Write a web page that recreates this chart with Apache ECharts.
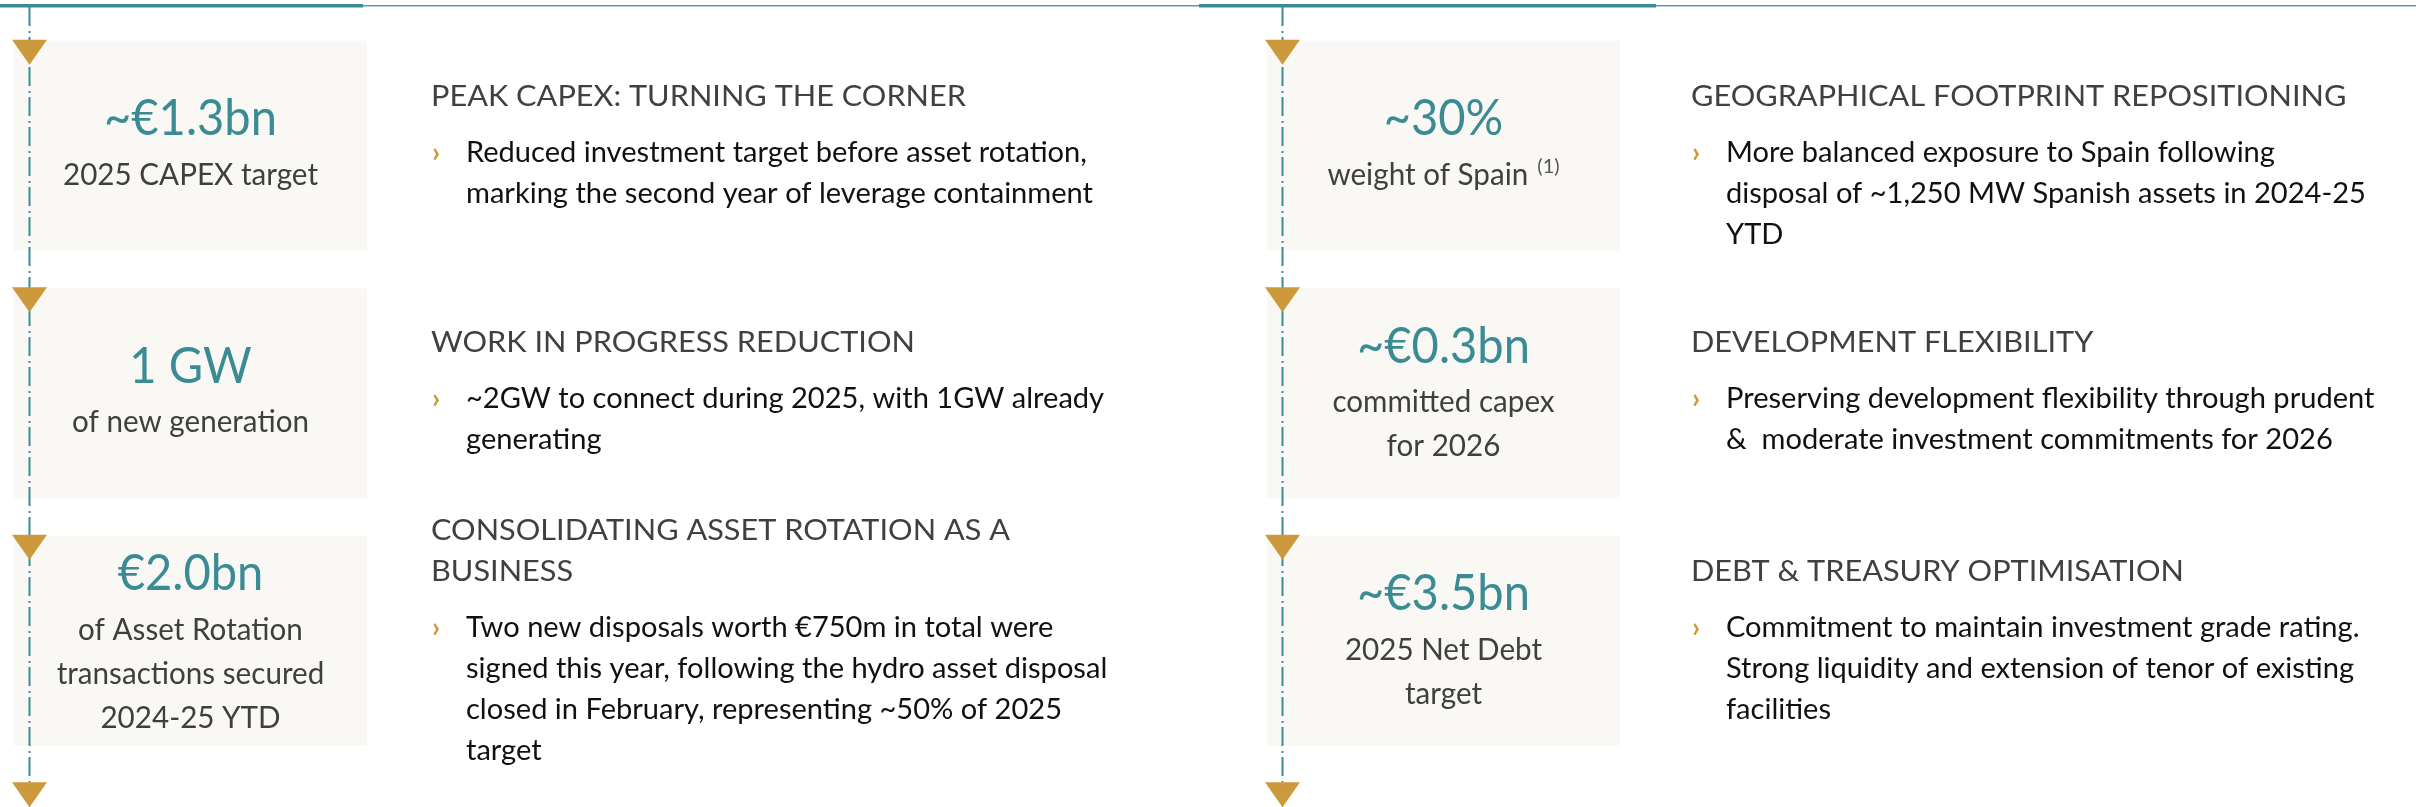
<!DOCTYPE html>
<html>
<head>
<meta charset="utf-8">
<title>Key highlights</title>
<script src="https://cdn.jsdelivr.net/npm/echarts@6/dist/echarts.min.js"></script>
<style>
  html, body { margin: 0; padding: 0; background: #fff; }
  #main { width: 2416px; height: 807px; }
</style>
</head>
<body>
<div id="main"></div>
<script>
const rowKeys = ['row1', 'row2', 'row3'];

// left column
const leftFigures = ['~€1.3bn', '1 GW', '€2.0bn'];
const leftCaptions = [
  ['2025 CAPEX target'],
  ['of new generation'],
  ['of Asset Rotation', 'transactions secured', '2024-25 YTD']
];
const leftNotes = ['', '', ''];
const leftHeadings = [
  ['PEAK CAPEX: TURNING THE CORNER'],
  ['WORK IN PROGRESS REDUCTION'],
  ['CONSOLIDATING ASSET ROTATION AS A', 'BUSINESS']
];
const leftBullets = [
  ['Reduced investment target before asset rotation,', 'marking the second year of leverage containment'],
  ['~2GW to connect during 2025, with 1GW already', 'generating'],
  ['Two new disposals worth €750m in total were', 'signed this year, following the hydro asset disposal',
   'closed in February, representing ~50% of 2025', 'target']
];

// right column
const rightFigures = ['~30%', '~€0.3bn', '~€3.5bn'];
const rightCaptions = [
  ['weight of Spain'],
  ['committed capex', 'for 2026'],
  ['2025 Net Debt', 'target']
];
const rightNotes = ['(1)', '', ''];
const rightHeadings = [
  ['GEOGRAPHICAL FOOTPRINT REPOSITIONING'],
  ['DEVELOPMENT FLEXIBILITY'],
  ['DEBT & TREASURY OPTIMISATION']
];
const rightBullets = [
  ['More balanced exposure to Spain following', 'disposal of ~1,250 MW Spanish assets in 2024-25', 'YTD'],
  ['Preserving development flexibility through prudent', '&  moderate investment commitments for 2026'],
  ['Commitment to maintain investment grade rating.', 'Strong liquidity and extension of tenor of existing', 'facilities']
];

const FONT = 'Lato, "Noto Sans", sans-serif';
const TEAL = '#3b8b95';
const GOLD = '#cc9a3c';

const ctx = document.createElement('canvas').getContext('2d');
function textWidth(str, size, weight) {
  ctx.font = (weight || 'normal') + ' ' + size + 'px ' + FONT;
  return ctx.measureText(str).width;
}

const sizes = { figure: 50, caption: 30, note: 20, heading: 28, body: 28 };
// stretch each text style so a sample line gets the width it has on the slide
const squeeze = {
  figure: 173 / textWidth('~€1.3bn', sizes.figure),
  caption: 255 / textWidth('2025 CAPEX target', sizes.caption),
  heading: 535 / textWidth('PEAK CAPEX: TURNING THE CORNER', sizes.heading),
  body: 451 / textWidth('Two new disposals worth €750m in', sizes.body)
};
const MID = 0.35; // baseline -> middle of caps

// last heading line, relative to row centre
const headShift = [-39, -40, -59];

function label(x, y, text, size, color, sx, align, weight) {
  return {
    type: 'text', x: x, y: y - MID * size, scaleX: sx, z2: 12,
    style: {
      text: text, fontSize: size, fontFamily: FONT, fontWeight: weight || 'normal',
      fill: color, align: align || 'left', verticalAlign: 'middle'
    }
  };
}

function makeRender(figures, captions, notes, headings, bullets, textGap) {
  return function (params, api) {
    const row = api.value(1);
    const c = api.coord([0.5, row]);
    const band = api.size([1, 1]);
    const cs = params.coordSys;
    const boxH = 210;
    const top = c[1] - boxH / 2;
    const lineX = cs.x + 15.5;
    const kids = [];

    kids.push({ type: 'rect', z2: 0, shape: { x: cs.x, y: top, width: cs.width, height: boxH }, style: { fill: '#f9f8f5' } });
    if (row === 0) {
      kids.push({
        type: 'line', z2: 5,
        shape: { x1: lineX, y1: cs.y - 15, x2: lineX, y2: cs.y + cs.height + 18 },
        style: { stroke: TEAL, lineWidth: 2, lineDash: [19, 5, 2, 4] }
      });
    }
    const tri = function (t) {
      return { type: 'polygon', z2: 10, shape: { points: [[lineX - 17.5, t], [lineX + 17.5, t], [lineX, t + 25]] }, style: { fill: GOLD } };
    };
    kids.push(tri(top - 1));
    if (row === rowKeys.length - 1) kids.push(tri(top - 1 + band[1]));

    // figure + caption inside the box
    const caps = captions[row];
    const numBase = c[1] - 9 - (caps.length - 1) * 20;
    kids.push(label(c[0], numBase, figures[row], sizes.figure, TEAL, squeeze.figure, 'center'));
    caps.forEach(function (line, i) {
      const base = numBase + 49 + i * 44;
      const note = i === caps.length - 1 ? notes[row] : '';
      if (note) {
        const w = textWidth(line, sizes.caption) * squeeze.caption;
        const nw = textWidth(note, sizes.note);
        const x0 = c[0] - (w + 9 + nw) / 2;
        kids.push(label(x0, base, line, sizes.caption, '#3f3f3f', squeeze.caption, 'left'));
        kids.push(label(x0 + w + 9, base - 12, note, sizes.note, '#555', 1, 'left'));
      } else {
        kids.push(label(c[0], base, line, sizes.caption, '#3f3f3f', squeeze.caption, 'center'));
      }
    });

    // heading and bullet text to the right of the box
    const tx = cs.x + textGap;
    const heads = headings[row];
    const lastHead = c[1] + headShift[row];
    heads.forEach(function (line, i) {
      kids.push(label(tx, lastHead - (heads.length - 1 - i) * 41, line, sizes.heading, '#404040', squeeze.heading, 'left'));
    });
    const bodyBase = lastHead + 56;
    kids.push(label(tx + 1, bodyBase, '›', 28, '#d09a3a', 1, 'left', 'bold'));
    bullets[row].forEach(function (line, j) {
      kids.push(label(tx + 35, bodyBase + j * 41, line, sizes.body, '#111111', squeeze.body, 'left'));
    });

    return { type: 'group', children: kids };
  };
}

const myChart = echarts.init(document.getElementById('main'));

const option = {
  backgroundColor: '#ffffff',
  animation: false,
  grid: [
    { left: 14, top: 22, width: 353, height: 742.5 },
    { left: 1267, top: 22, width: 353, height: 742.5 }
  ],
  xAxis: [
    { type: 'value', gridIndex: 0, min: 0, max: 1, show: false },
    { type: 'value', gridIndex: 1, min: 0, max: 1, show: false }
  ],
  yAxis: [
    { type: 'category', gridIndex: 0, data: rowKeys, inverse: true, show: false },
    { type: 'category', gridIndex: 1, data: rowKeys, inverse: true, show: false }
  ],
  // top rule
  graphic: [
    { type: 'rect', shape: { x: 0, y: 5, width: 2416, height: 1.4 }, style: { fill: '#58a0a8' } },
    { type: 'rect', shape: { x: 0, y: 4, width: 363, height: 3.5 }, style: { fill: TEAL } },
    { type: 'rect', shape: { x: 1199, y: 4, width: 457, height: 3.5 }, style: { fill: TEAL } }
  ],
  series: [
    {
      type: 'custom', xAxisIndex: 0, yAxisIndex: 0,
      data: rowKeys.map(function (k, i) { return [0.5, i]; }),
      renderItem: makeRender(leftFigures, leftCaptions, leftNotes, leftHeadings, leftBullets, 417)
    },
    {
      type: 'custom', xAxisIndex: 1, yAxisIndex: 1,
      data: rowKeys.map(function (k, i) { return [0.5, i]; }),
      renderItem: makeRender(rightFigures, rightCaptions, rightNotes, rightHeadings, rightBullets, 424)
    }
  ]
};

option && myChart.setOption(option);
</script>
</body>
</html>
